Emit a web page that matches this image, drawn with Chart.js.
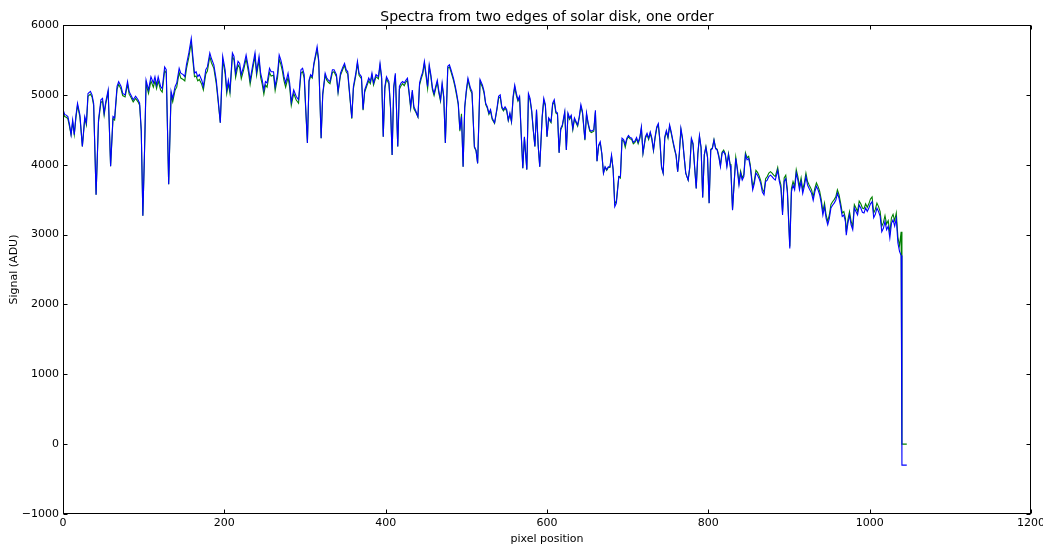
<!DOCTYPE html>
<html>
<head>
<meta charset="utf-8">
<script src="https://cdn.jsdelivr.net/npm/chart.js@4.4.0/dist/chart.umd.min.js"></script>
<style>
  html, body { margin: 0; padding: 0; background: #fff; }
  #wrap { width: 1043px; height: 546px; }
</style>
</head>
<body>
<div id="wrap"><canvas id="myChart" width="1043" height="546"></canvas></div>
<script>
// pixel positions along the order (shared by both traces)
const pixelPos = [
  0,2,4,6,8,10,12,14,16,18,21,24,27,29,31,34,36,38,41,44,47,49,51,53,56,59,62,64,67,69,72,74,77,80,82,84,87,90,93,95,97,99,101,
  103,106,109,112,114,116,118,121,123,126,128,131,134,136,139,141,144,146,149,151,153,156,159,161,163,165,167,169,172,174,177,179,182,184,187,190,192,195,198,201,
  203,205,207,210,212,214,217,219,221,224,227,230,232,235,238,240,243,245,247,249,251,253,256,258,261,263,266,268,270,272,274,276,279,281,283,286,289,292,295,297,299,301,303,
  305,307,309,311,313,315,317,320,322,325,327,329,331,334,336,339,341,344,347,349,351,353,355,358,360,363,365,367,370,372,374,377,379,381,383,385,388,391,393,395,397,399,401,
  404,406,408,410,412,415,417,419,421,423,425,427,429,431,433,435,437,440,442,444,446,448,450,452,454,456,458,460,462,464,466,468,470,472,474,477,479,481,484,486,488,490,492,494,496,498,500,
  502,505,507,510,512,514,517,520,522,524,526,528,530,532,535,538,540,542,544,546,548,550,552,554,556,558,560,562,564,566,568,570,572,575,577,579,581,583,585,587,589,591,594,596,598,600,
  602,605,607,609,611,613,615,617,619,622,624,626,628,630,632,634,636,638,640,642,644,647,649,651,653,655,658,660,662,664,666,668,670,672,674,676,678,680,682,684,686,689,
  691,693,695,697,699,701,703,705,707,709,711,713,715,717,719,722,724,726,728,730,732,734,736,738,740,742,744,746,748,750,752,754,756,758,760,762,764,766,768,770,772,775,777,779,781,783,785,787,789,
  791,793,795,797,799,801,803,805,807,809,811,813,815,817,819,821,823,825,827,828,830,832,834,836,838,840,842,844,846,848,850,852,855,857,859,861,863,865,867,869,871,873,875,877,879,881,883,886,888,
  890,892,894,896,898,901,903,905,907,909,911,913,915,917,919,921,923,925,928,930,932,934,936,938,940,942,944,946,948,950,952,954,956,958,960,962,964,966,968,970,971,973,975,977,979,981,983,985,987,989,
  991,993,995,997,999,1001,1003,1005,1007,1009,1011,1013,1015,1017,1019,1021,1023,1025,1027,1029,1031,1033,1035,1037,1039,1040,1046
];

// blue trace (signal, ADU)
const blueSignal = [
  4790,4720,4710,4690,4580,4430,4640,4430,4700,4880,4710,4260,4690,4600,5020,5050,5000,4880,3570,4640,4930,4950,4740,4900,5070,3980,4690,4670,5120,5190,5120,5020,5000,5190,5050,5000,4930,4980,4930,4880,4500,3270,4170,
  5210,5070,5260,5170,5260,5140,5260,5120,5090,5400,5360,3720,5050,4950,5120,5170,5380,5310,5290,5260,5430,5600,5810,5550,5310,5330,5260,5290,5210,5120,5360,5400,5600,5520,5430,5210,4980,4600,5550,5360,
  5070,5210,5070,5600,5550,5310,5480,5450,5290,5410,5570,5380,5210,5410,5600,5330,5550,5310,5210,5070,5190,5170,5380,5330,5330,5120,5310,5570,5500,5400,5260,5170,5310,5170,4900,5070,4980,4930,5360,5380,5290,4790,4310,
  5210,5290,5260,5450,5570,5690,5500,4380,5020,5310,5240,5210,5190,5360,5360,5290,5050,5310,5400,5450,5360,5330,5070,4670,5120,5310,5480,5310,5260,4790,5070,5170,5240,5190,5310,5170,5290,5260,5450,5260,4400,5120,5260,
  5190,4830,4140,5120,5310,4260,5120,5170,5190,5170,5210,5240,5050,4830,5070,4830,4780,4690,5170,5260,5330,5480,5310,5120,5430,5290,5100,5020,5120,5210,5050,4930,5170,4980,4310,5410,5430,5360,5240,5140,5020,4880,4500,4690,3970,4830,5070,
  5240,5100,5050,4260,4210,4020,5220,5140,5050,4880,4830,4740,4790,4670,4600,4810,4980,5000,4830,4790,4830,4790,4640,4740,4620,4980,5140,5020,4930,4980,4450,3950,4400,3930,5020,4950,4780,4500,4260,4790,4290,3970,4690,4950,4860,4400,
  4670,4620,4880,4930,4760,4740,4170,4520,4570,4760,4210,4740,4670,4710,4520,4670,4620,4570,4690,4860,4760,4360,4740,4600,4500,4480,4500,4780,4050,4280,4330,4160,3880,3970,3930,3970,3970,4140,3930,3400,3450,3830,
  3830,4380,4360,4290,4380,4420,4390,4380,4320,4340,4390,4320,4390,4540,4170,4400,4450,4380,4470,4380,4210,4400,4540,4590,4350,3970,3880,4400,4490,4400,4570,4470,4350,4240,4140,3900,4160,4520,4380,4120,3880,3780,3970,4380,4310,3970,3660,4160,4420,
  4250,3530,4140,4250,4100,3450,4210,4230,4350,4230,4210,4110,3970,4160,4190,4140,3970,4140,3990,3900,3350,3730,4090,3920,3710,3880,3780,3830,4140,4070,4090,3970,3640,3730,3880,3850,3800,3730,3610,3570,3760,3780,3830,3850,3830,3800,3780,3920,3760,
  3660,3280,3760,3800,3600,2800,3610,3710,3640,3880,3780,3640,3760,3590,3690,3830,3710,3660,3590,3490,3610,3690,3640,3570,3450,3280,3400,3230,3140,3230,3380,3420,3450,3490,3590,3520,3400,3260,3280,3180,2990,3160,3280,3140,3070,3380,3330,3280,3420,3380,
  3320,3310,3380,3330,3380,3440,3470,3240,3290,3380,3330,3260,3040,3090,3190,3070,3120,2950,3160,3210,3120,3230,2880,2760,2700,-300,-300
];

// green trace (signal, ADU)
const greenSignal = [
  4760,4690,4680,4660,4550,4430,4610,4430,4670,4850,4680,4260,4660,4570,4980,5010,4970,4850,3570,4610,4890,4910,4710,4870,5040,3980,4660,4640,5080,5150,5080,4990,4970,5150,5010,4970,4900,4950,4900,4850,4480,3270,4150,
  5160,5020,5200,5110,5200,5090,5200,5070,5040,5350,5310,3720,5000,4900,5070,5110,5320,5240,5220,5200,5370,5540,5750,5490,5260,5270,5200,5220,5150,5070,5300,5340,5550,5460,5380,5160,4940,4600,5500,5300,
  5020,5160,5020,5550,5500,5250,5430,5390,5230,5360,5520,5320,5150,5360,5550,5280,5500,5250,5150,5010,5140,5110,5320,5270,5280,5060,5250,5510,5440,5340,5200,5110,5250,5110,4850,5020,4930,4880,5310,5330,5240,4760,4310,
  5190,5270,5240,5430,5540,5650,5470,4380,5000,5280,5210,5180,5160,5320,5330,5260,5030,5280,5370,5420,5330,5300,5040,4660,5090,5280,5450,5280,5230,4780,5040,5140,5200,5160,5280,5140,5260,5230,5420,5230,4400,5090,5230,
  5160,4810,4140,5090,5280,4260,5080,5130,5160,5130,5180,5210,5020,4810,5040,4800,4760,4680,5140,5230,5300,5450,5270,5090,5400,5260,5070,4990,5090,5180,5020,4910,5140,4960,4310,5380,5400,5330,5210,5110,4990,4860,4480,4730,3970,4810,5040,
  5210,5070,5020,4250,4200,4020,5190,5110,5020,4860,4810,4720,4770,4650,4590,4790,4950,4970,4810,4770,4810,4770,4630,4720,4610,4950,5110,4990,4910,4960,4440,3950,4390,3930,4990,4920,4760,4490,4260,4770,4280,3970,4670,4920,4840,4400,
  4650,4600,4860,4900,4740,4720,4170,4500,4550,4740,4210,4720,4650,4690,4500,4650,4600,4550,4670,4830,4740,4350,4720,4580,4480,4460,4480,4750,4050,4270,4310,4150,3880,3960,3920,3960,3960,4120,3930,3440,3480,3830,
  3810,4350,4340,4250,4360,4400,4370,4360,4300,4320,4370,4300,4370,4520,4160,4380,4430,4360,4450,4360,4200,4380,4520,4570,4330,3960,3880,4380,4470,4380,4550,4450,4330,4220,4130,3900,4150,4500,4360,4110,3880,3780,3960,4360,4290,3960,3660,4150,4400,
  4240,3530,4140,4260,4110,3450,4220,4240,4360,4240,4220,4130,3990,4180,4210,4160,3990,4160,4010,3920,3360,3750,4110,3950,3740,3910,3810,3860,4170,4100,4120,4000,3680,3770,3920,3890,3840,3770,3650,3610,3800,3830,3880,3900,3880,3850,3830,3960,3800,
  3710,3320,3810,3850,3640,2830,3660,3760,3690,3930,3830,3690,3810,3640,3740,3880,3760,3710,3640,3540,3660,3740,3690,3620,3500,3330,3450,3280,3190,3280,3430,3470,3500,3540,3640,3570,3450,3310,3330,3230,3040,3210,3330,3190,3120,3430,3380,3330,3480,3440,
  3380,3370,3440,3390,3440,3510,3540,3310,3360,3450,3400,3330,3120,3170,3270,3150,3200,3030,3240,3290,3200,3310,2960,2840,3040,0,0
];

const xMin = 0, xMax = 1200, xStep = 200;
const yMin = -1000, yMax = 6000, yStep = 1000;

const FONT = "'DejaVu Sans', 'Liberation Sans', sans-serif";

function toPoints(ys) {
  return pixelPos.map((x, i) => ({ x: x, y: ys[i] }));
}

// plain numbers, unicode minus, no thousands separator
function tickText(v) {
  return String(v).replace("-", "\u2212");
}

// black frame with inward ticks on all four sides, like the classic matplotlib look
const frameTicks = {
  id: "frameTicks",
  afterDatasetsDraw(chart) {
    const { ctx, chartArea: a, scales } = chart;
    const L = Math.round(a.left) + 0.5, R = Math.round(a.right) - 0.5;
    const T = Math.round(a.top) + 0.5, B = Math.round(a.bottom) - 0.5;
    const len = 4;
    ctx.save();
    ctx.strokeStyle = "#000";
    ctx.lineWidth = 1;
    ctx.beginPath();
    scales.x.ticks.forEach((t) => {
      const px = Math.round(scales.x.getPixelForValue(t.value)) + 0.5;
      ctx.moveTo(px, B); ctx.lineTo(px, B - len);
      ctx.moveTo(px, T); ctx.lineTo(px, T + len);
    });
    scales.y.ticks.forEach((t) => {
      const py = Math.round(scales.y.getPixelForValue(t.value)) + 0.5;
      ctx.moveTo(L, py); ctx.lineTo(L + len, py);
      ctx.moveTo(R, py); ctx.lineTo(R - len, py);
    });
    ctx.stroke();
    ctx.strokeRect(L, T, R - L, B - T);
    ctx.restore();
  },
};

var ctx = document.getElementById("myChart");

var myChart = new Chart(ctx, {
  type: "line",
  data: {
    datasets: [
      {
        label: "edge 2",
        data: toPoints(blueSignal),
        borderColor: "#0000ff",
        backgroundColor: "#0000ff",
        borderWidth: 1.1,
        pointRadius: 0,
        tension: 0,
        fill: false,
      },
      {
        label: "edge 1",
        data: toPoints(greenSignal),
        borderColor: "#008000",
        backgroundColor: "#008000",
        borderWidth: 1.1,
        pointRadius: 0,
        tension: 0,
        fill: false,
      },
    ],
  },
  options: {
    responsive: false,
    animation: false,
    layout: { padding: { left: 8, right: 12, top: 0, bottom: 0 } },
    plugins: {
      legend: { display: false },
      tooltip: { enabled: false },
      title: { display: false },
    },
    scales: {
      // top axis only carries the title, so it is centred over the plot box
      top: {
        type: "linear",
        position: "top",
        min: xMin,
        max: xMax,
        grid: { display: false, drawTicks: false },
        border: { display: false },
        ticks: { display: false },
        title: {
          display: true,
          text: "Spectra from two edges of solar disk, one order",
          color: "#000",
          padding: { top: 8.6, bottom: 0 },
          font: { family: FONT, size: 14 },
        },
        afterFit(scale) {
          scale.height = 25;
          scale.paddingLeft = 0;
          scale.paddingRight = 0;
        },
      },
      x: {
        type: "linear",
        position: "bottom",
        min: xMin,
        max: xMax,
        grid: { display: false, drawTicks: false },
        border: { display: false },
        ticks: {
          stepSize: xStep,
          color: "#000",
          padding: 3,
          maxRotation: 0,
          font: { family: FONT, size: 11 },
          callback: tickText,
        },
        title: {
          display: true,
          text: "pixel position",
          color: "#000",
          padding: 0,
          font: { family: FONT, size: 11 },
        },
        afterFit(scale) {
          scale.height = 32;
          scale.paddingLeft = 0;
          scale.paddingRight = 0;
        },
      },
      y: {
        min: yMin,
        max: yMax,
        grid: { display: false, drawTicks: false },
        border: { display: false },
        ticks: {
          stepSize: yStep,
          color: "#000",
          padding: 4,
          font: { family: FONT, size: 11 },
          callback: tickText,
        },
        title: {
          display: true,
          text: "Signal (ADU)",
          color: "#000",
          padding: 0,
          font: { family: FONT, size: 11 },
        },
        afterFit(scale) {
          scale.width = 55;
        },
      },
    },
  },
  plugins: [frameTicks],
});
</script>
</body>
</html>
